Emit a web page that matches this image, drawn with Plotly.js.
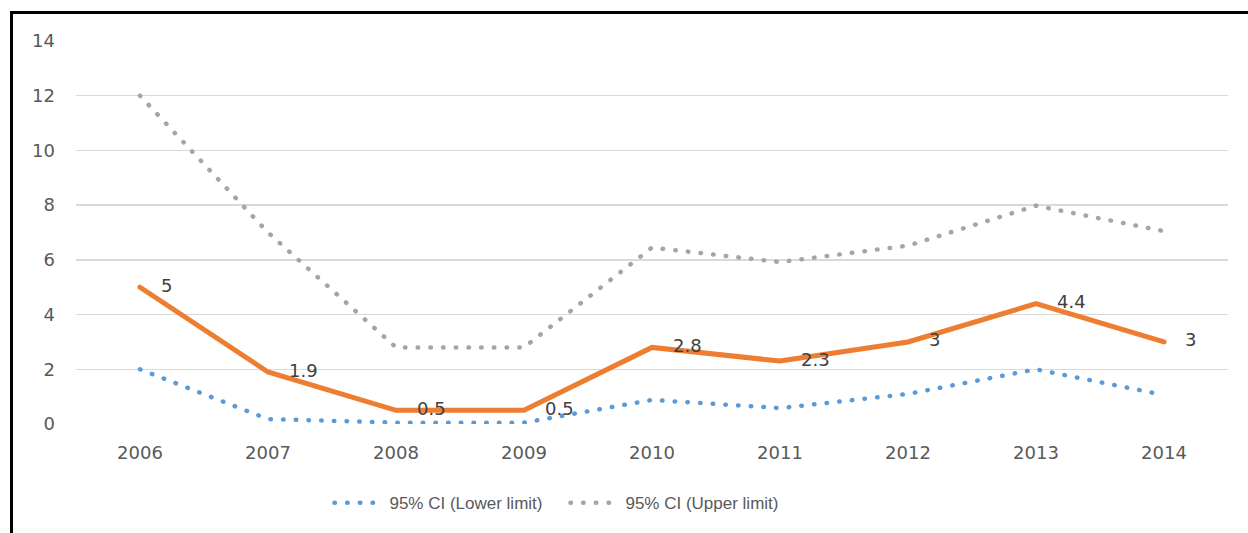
<!DOCTYPE html>
<html>
<head>
<meta charset="utf-8">
<script src="https://cdn.plot.ly/plotly-3.0.1.min.js"></script>
<style>
  html, body { margin: 0; padding: 0; background: #fff; }
  #wrap { position: relative; width: 1248px; height: 533px; overflow: hidden; }
  #frame { position: absolute; left: 10px; top: 11px; width: 1300px; height: 600px;
           border-left: 3px solid #000; border-top: 3px solid #000; pointer-events: none; z-index: 5; }
  #chart { position: absolute; left: 0; top: 0; width: 1248px; height: 533px; }
  .js-line { stroke-linecap: round; }
</style>
</head>
<body>
<div id="wrap">
  <div id="chart"></div>
  <div id="frame"></div>
</div>
<script>
const years = ['2006', '2007', '2008', '2009', '2010', '2011', '2012', '2013', '2014'];
const estimate = [5, 1.9, 0.5, 0.5, 2.8, 2.3, 3, 4.4, 3];
const lowerCI = [2.0, 0.18, 0.05, 0.05, 0.88, 0.58, 1.1, 2.0, 1.06];
const upperCI = [12, 7.0, 2.8, 2.8, 6.45, 5.92, 6.52, 7.98, 7.05];
const lowerName = '95% CI (Lower limit)';
const upperName = '95% CI (Upper limit)';

const tickFont = '"DejaVu Sans", "Liberation Sans", sans-serif';
const legFont = '"Liberation Sans", Arial, sans-serif';

const traces = [
  {
    x: years, y: lowerCI, name: lowerName, type: 'scatter', mode: 'lines',
    line: { color: '#5B9BD5', width: 4.5, dash: '0.5px,12.2px' },
    hoverinfo: 'skip'
  },
  {
    x: years, y: upperCI, name: upperName, type: 'scatter', mode: 'lines',
    line: { color: '#A5A5A5', width: 4.5, dash: '0.5px,12.2px' },
    hoverinfo: 'skip'
  },
  {
    x: years, y: estimate, name: 'Estimate', type: 'scatter', mode: 'lines+markers+text',
    line: { color: '#ED7D31', width: 5 },
    marker: { size: 32, color: 'rgba(0,0,0,0)' },
    text: estimate.map(String), textposition: 'middle right',
    textfont: { family: tickFont, size: 18, color: '#404040' },
    showlegend: false, hoverinfo: 'skip'
  }
];

const layout = {
  width: 1248, height: 533,
  margin: { l: 76, r: 20, t: 41, b: 109 },
  paper_bgcolor: '#ffffff', plot_bgcolor: '#ffffff',
  font: { family: tickFont, size: 18, color: '#595959' },
  xaxis: {
    type: 'category', range: [-0.5, years.length - 0.5], autorange: false,
    showgrid: false, zeroline: false, showline: false,
    ticks: '', ticklabelstandoff: 16,
    tickfont: { family: tickFont, size: 18, color: '#595959' }
  },
  yaxis: {
    range: [0, 14], autorange: false, dtick: 2, showgrid: true, gridcolor: '#D9D9D9', gridwidth: 1.5,
    zeroline: false, showline: false, ticks: '', ticklabelstandoff: 20,
    tickfont: { family: tickFont, size: 18, color: '#595959' }
  },
  showlegend: true,
  legend: {
    orientation: 'h', x: 0.22, xanchor: 'left', y: -0.16, yanchor: 'top',
    font: { family: legFont, size: 17, color: '#595959' },
    itemwidth: 50,
    entrywidth: 171, entrywidthmode: 'pixels',
    tracegroupgap: 0, bgcolor: 'rgba(0,0,0,0)'
  }
};

Plotly.newPlot('chart', traces, layout, { displayModeBar: false, staticPlot: true });
</script>
</body>
</html>
